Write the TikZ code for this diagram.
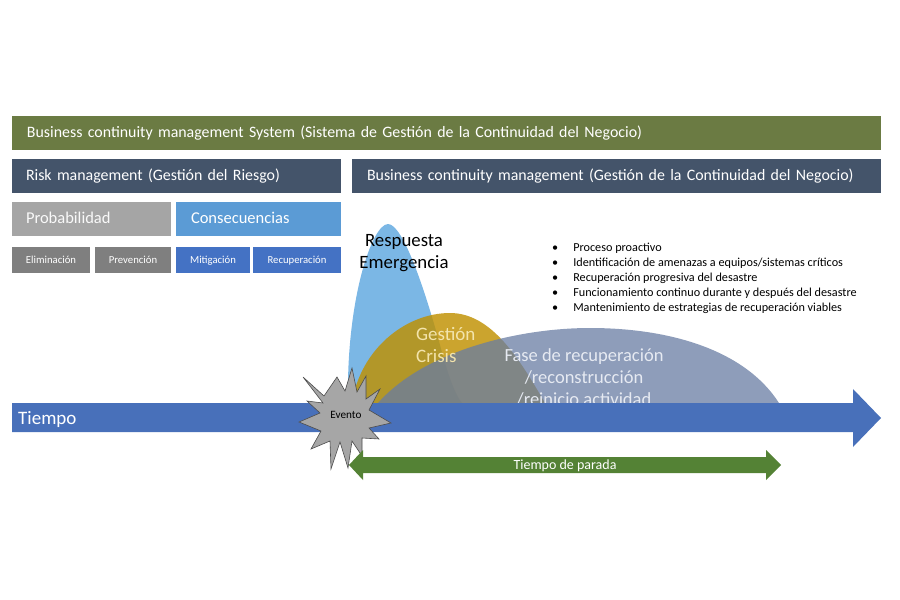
\documentclass[tikz,border=0pt]{standalone}
\usepackage{fontspec}
\setmainfont{Carlito}
\definecolor{cGreen}{HTML}{6B7B43}
\definecolor{cNavy}{HTML}{44546A}
\definecolor{cGray}{HTML}{A5A5A5}
\definecolor{cDGray}{HTML}{7F7F7F}
\definecolor{cLBlue}{HTML}{5B9BD5}
\definecolor{cBlue}{HTML}{4472C4}
\definecolor{cArrow}{HTML}{4870BA}
\definecolor{cDown}{HTML}{548235}
\definecolor{cPeak}{HTML}{64AAE1}
\definecolor{cGold}{HTML}{BF9000}
\definecolor{cRec}{HTML}{687CA3}
\definecolor{cGestTxt}{HTML}{F3E4AC}
\definecolor{cRecTxt}{HTML}{E6EAF2}
\tikzset{
  bar/.style={draw=none, minimum height=34pt, inner ysep=0pt, text height=12pt, text depth=2.4pt, text=white, align=left, anchor=center},
  smallbox/.style={draw=none, minimum height=26pt, inner sep=0pt, text height=8pt, text depth=1.4pt, text=white, align=center, font=\fontsize{10.7}{12}\selectfont},
  lbl/.style={inner sep=0pt},
  hump/.style={draw=none, fill opacity=#1},
}
\begin{document}
\begin{tikzpicture}[x=1pt,y=-1pt]
\useasboundingbox (0,0) rectangle (900,600);

% top bars
\node[bar, fill=cGreen, minimum width=869pt, inner xsep=15pt, text width=839pt, font=\fontsize{15.9}{18}\selectfont] (bcms) at (446.5,133) {Business continuity management System (Sistema de Gestión de la Continuidad del Negocio)};
\node[bar, fill=cNavy, minimum width=329pt, inner xsep=14pt, text width=301pt, font=\fontsize{15.9}{18}\selectfont] (risk) at (176.5,176) {Risk management (Gestión del Riesgo)};
\node[bar, fill=cNavy, minimum width=529pt, inner xsep=15pt, text width=499pt, font=\fontsize{15.9}{18}\selectfont] (bcm) at (616.5,176) {Business continuity management (Gestión de la Continuidad del Negocio)};
\node[bar, fill=cGray, text=white!95!gray, minimum width=159pt, inner xsep=14pt, text width=131pt, font=\fontsize{16.5}{18}\selectfont] (prob) at (91.5,219) {Probabilidad};
\node[bar, fill=cLBlue, minimum width=165pt, inner xsep=15pt, text width=135pt, font=\fontsize{16.5}{18}\selectfont] (cons) at (258.5,219) {Consecuencias};

% small boxes
\node[smallbox, fill=cDGray, minimum width=78pt] (elim) at (51,260) {Eliminación};
\node[smallbox, fill=cDGray, minimum width=76pt] (prev) at (133,260) {Prevención};
\node[smallbox, fill=cBlue, minimum width=74pt] (miti) at (213,260) {Mitigación};
\node[smallbox, fill=cBlue, minimum width=88pt] (recu) at (297,260) {Recuperación};

% humps
\fill[cPeak, hump=0.85] (348,403) .. controls (346,300) and (372,224) .. (388,224)
  .. controls (403,224) and (425,290) .. (440,345)
  .. controls (447,372) and (455,395) .. (462,403) -- cycle;
\fill[cGold, hump=0.82] (352,403) .. controls (360,350) and (405,313) .. (450,313)
  .. controls (492,313) and (520,360) .. (545,403) -- cycle;
\fill[cRec, hump=0.75] (378,403) .. controls (425,350) and (520,328) .. (590,328)
  .. controls (670,328) and (745,350) .. (779,403) -- cycle;

% hump labels
\node[lbl, align=center, font=\fontsize{18.8}{22}\selectfont] (resp) at (404,253.5) {Respuesta\\Emergencia};
\node[lbl, anchor=west, align=left, text=cGestTxt, font=\fontsize{19}{22}\selectfont] (gest) at (416,345) {Gestión\\Crisis};
\node[lbl, align=center, text=cRecTxt, font=\fontsize{18.5}{22}\selectfont] (fase) at (584,377) {Fase de recuperación\\/reconstrucción\\/reinicio actividad};

% bullets
\node[lbl, anchor=west, font=\fontsize{12.2}{15}\selectfont] (list) at (552,278.5) {%
\begin{tabular}{@{}l@{\hspace{15pt}}l@{}}
\textbullet & Proceso proactivo\\
\textbullet & Identificación de amenazas a equipos/sistemas críticos\\
\textbullet & Recuperación progresiva del desastre\\
\textbullet & Funcionamiento continuo durante y después del desastre\\
\textbullet & Mantenimiento de estrategias de recuperación viables
\end{tabular}};

% time arrow
\fill[cArrow] (12,403) -- (853,403) -- (853,389) -- (881,418) -- (853,447) -- (853,432) -- (12,432) -- cycle;
\node[lbl, anchor=west, text=white, font=\fontsize{19}{22}\selectfont] (tiempo) at (18,419) {Tiempo};

% event star
\filldraw[fill=gray!70, draw=black!70, line width=0.6pt, line join=miter]
  (303,377) -- (324,396) -- (337,377) -- (345,391) -- (352,368) -- (357,392)
  -- (366,376) -- (366,399) -- (380,389) -- (369,410) -- (391,423) -- (369,428)
  -- (379,439) -- (362,438) -- (362,456) -- (352,441) -- (348,468) -- (340,442)
  -- (331,469) -- (330,441) -- (311,449) -- (321,431) -- (299,422) -- (320,413)
  -- (307,401) -- (323,403) -- cycle;
\node[lbl, font=\fontsize{11.2}{13}\selectfont] (evento) at (346,415) {Evento};

% downtime arrow
\fill[cDown] (349,465) -- (363,450) -- (363,457) -- (766,457) -- (766,450) -- (781,465)
  -- (766,480) -- (766,473) -- (363,473) -- (363,480) -- cycle;
\node[lbl, text=white, font=\fontsize{14}{16}\selectfont] (parada) at (565,466) {Tiempo de parada};
\end{tikzpicture}
\end{document}
